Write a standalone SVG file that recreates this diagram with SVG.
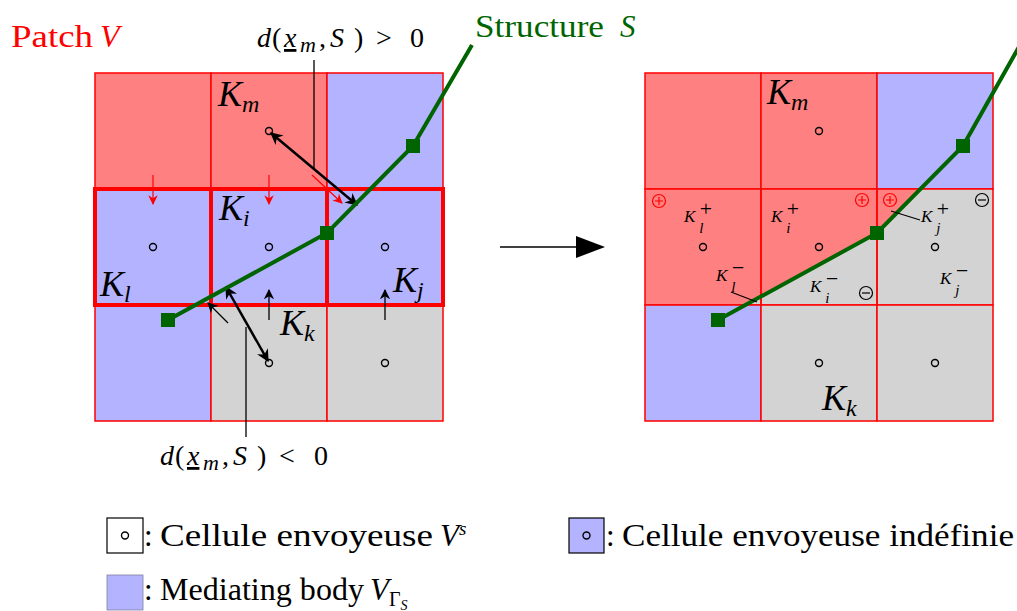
<svg xmlns="http://www.w3.org/2000/svg" width="1017" height="611" viewBox="0 0 1017 611">
<style>
.t{font-family:"Liberation Serif","DejaVu Serif",serif;fill:#000}
.m{font-family:"Liberation Serif","DejaVu Serif",serif;font-style:italic;fill:#000}
.red{fill:#ff8080}
.blue{fill:#b3b3ff}
.gray{fill:#d3d3d3}
.cell{stroke:#ff0000;stroke-width:1.5}
.thick{fill:none;stroke:#ff0000;stroke-width:4}
.dot{fill:none;stroke:#000;stroke-width:1.4}
.green{fill:none;stroke:#006400;stroke-width:4}
.sq{fill:#006400}
.blk{stroke:#000;stroke-width:1.3;fill:none}
.ar{stroke:#000;stroke-width:2.5;fill:none}
.rar{stroke:#ff0000;stroke-width:1.2;fill:none}
</style>
<defs>
<marker id="bh" viewBox="0 0 10 10" refX="9" refY="5" markerWidth="5" markerHeight="5" orient="auto-start-reverse" markerUnits="strokeWidth"><path d="M0,0 L10,5 L0,10 L3,5 z" fill="#000"/></marker>
<marker id="bs" viewBox="0 0 10 10" refX="9" refY="5" markerWidth="8" markerHeight="8" orient="auto" markerUnits="strokeWidth"><path d="M0,0 L10,5 L0,10 L3,5 z" fill="#000"/></marker>
<marker id="rh" viewBox="0 0 10 10" refX="9" refY="5" markerWidth="8" markerHeight="8" orient="auto" markerUnits="strokeWidth"><path d="M0,0 L10,5 L0,10 L3,5 z" fill="#ff0000"/></marker>
</defs>

<g id="left-grid">
<rect class="cell red" x="95" y="73" width="116" height="116"/>
<rect class="cell red" x="211" y="73" width="116" height="116"/>
<rect class="cell blue" x="327" y="73" width="116" height="116"/>
<rect class="cell blue" x="95" y="189" width="116" height="116"/>
<rect class="cell blue" x="211" y="189" width="116" height="116"/>
<rect class="cell blue" x="327" y="189" width="116" height="116"/>
<rect class="cell blue" x="95" y="305" width="116" height="116"/>
<rect class="cell gray" x="211" y="305" width="116" height="116"/>
<rect class="cell gray" x="327" y="305" width="116" height="116"/>
<rect class="thick" x="95" y="189" width="116" height="116"/>
<rect class="thick" x="211" y="189" width="116" height="116"/>
<rect class="thick" x="327" y="189" width="116" height="116"/>
<circle class="dot" cx="269" cy="131" r="3.5"/>
<circle class="dot" cx="153" cy="247" r="3.5"/>
<circle class="dot" cx="269" cy="247" r="3.5"/>
<circle class="dot" cx="385" cy="247" r="3.5"/>
<circle class="dot" cx="269" cy="363" r="3.5"/>
<circle class="dot" cx="385" cy="363" r="3.5"/>
</g>

<g id="right-grid">
<rect class="cell red" x="645" y="73" width="116" height="116"/>
<rect class="cell red" x="761" y="73" width="116" height="116"/>
<rect class="cell blue" x="877" y="73" width="116" height="116"/>
<rect class="red" x="645" y="189" width="116" height="116"/>
<polygon class="gray" points="745.5,305 761,296.5 761,305"/>
<polygon class="red" points="761,189 877,189 877,233 761,296.5"/>
<polygon class="gray" points="761,296.5 877,233 877,305 761,305"/>
<rect class="gray" x="877" y="189" width="116" height="116"/>
<polygon class="red" points="877,189 920.5,189 877,233"/>
<rect class="cell" fill="none" x="645" y="189" width="116" height="116"/>
<rect class="cell" fill="none" x="761" y="189" width="116" height="116"/>
<rect class="cell" fill="none" x="877" y="189" width="116" height="116"/>
<rect class="cell blue" x="645" y="305" width="116" height="116"/>
<rect class="cell gray" x="761" y="305" width="116" height="116"/>
<rect class="cell gray" x="877" y="305" width="116" height="116"/>
<circle class="dot" cx="819" cy="131" r="3.5"/>
<circle class="dot" cx="703" cy="247" r="3.5"/>
<circle class="dot" cx="819" cy="247" r="3.5"/>
<circle class="dot" cx="935" cy="247" r="3.5"/>
<circle class="dot" cx="819" cy="363" r="3.5"/>
<circle class="dot" cx="935" cy="363" r="3.5"/>
</g>

<g id="connectors">
<line class="rar" x1="153" y1="175" x2="153" y2="204" marker-end="url(#rh)"/>
<line class="rar" x1="269" y1="175" x2="269" y2="204" marker-end="url(#rh)"/>
<line class="rar" x1="312" y1="175" x2="342" y2="203" marker-end="url(#rh)"/>
<line class="blk" x1="269" y1="320" x2="269" y2="290" marker-end="url(#bs)"/>
<line class="blk" x1="385" y1="320" x2="385" y2="290" marker-end="url(#bs)"/>
<line class="blk" x1="228" y1="323" x2="208" y2="303" marker-end="url(#bs)"/>
<line class="ar" x1="271" y1="133" x2="357" y2="205" marker-start="url(#bh)" marker-end="url(#bh)"/>
<line class="ar" x1="226" y1="287" x2="268" y2="361" marker-start="url(#bh)" marker-end="url(#bh)"/>
<line class="blk" x1="314" y1="60" x2="314" y2="170"/>
<line class="blk" x1="246" y1="327" x2="246" y2="437"/>
<polyline class="green" points="472,45 413,146 327,233 168,320"/>
<rect class="sq" x="406" y="139" width="14" height="14"/>
<rect class="sq" x="320" y="226" width="14" height="14"/>
<rect class="sq" x="161" y="313" width="14" height="14"/>
<polyline class="green" points="1020,45 963,146 877,233 718,320"/>
<rect class="sq" x="956" y="139" width="14" height="14"/>
<rect class="sq" x="870" y="226" width="14" height="14"/>
<rect class="sq" x="711" y="313" width="14" height="14"/>
<line class="blk" x1="731" y1="292" x2="757" y2="302"/>
<line class="blk" x1="891" y1="211" x2="920" y2="220"/>
<line x1="500" y1="247" x2="580" y2="247" stroke="#000" stroke-width="1.5"/>
<polygon points="576,236 605,247 576,258" fill="#000"/>
</g>

<g id="labels">
<text class="t" x="11" y="47" font-size="32" style="fill:#ff0000" textLength="82" lengthAdjust="spacingAndGlyphs">Patch</text>
<text class="m" x="100" y="47" font-size="32" style="fill:#ff0000">V</text>
<text class="t" x="475" y="37" font-size="31" style="fill:#006400" textLength="129" lengthAdjust="spacingAndGlyphs">Structure</text>
<text class="m" x="620" y="37" font-size="31" style="fill:#006400">S</text>
<text class="t" y="47" font-size="28"><tspan class="m" x="257">d</tspan><tspan x="272">(</tspan><tspan class="m" x="284" text-decoration="underline">x</tspan><tspan class="m" x="300" font-size="22" dy="5">m</tspan><tspan x="319" dy="-5">,</tspan><tspan class="m" x="330">S</tspan><tspan x="354">)</tspan><tspan x="376">&gt;</tspan><tspan x="410">0</tspan></text>
<text class="t" y="465" font-size="28"><tspan class="m" x="160">d</tspan><tspan x="175">(</tspan><tspan class="m" x="187" text-decoration="underline">x</tspan><tspan class="m" x="203" font-size="22" dy="5">m</tspan><tspan x="222" dy="-5">,</tspan><tspan class="m" x="233">S</tspan><tspan x="257">)</tspan><tspan x="279">&lt;</tspan><tspan x="314">0</tspan></text>
<text class="m" x="218" y="106" font-size="36">K<tspan font-size="24" dy="6">m</tspan></text>
<text class="m" x="219" y="220" font-size="36">K<tspan font-size="24" dy="6">i</tspan></text>
<text class="m" x="100" y="296" font-size="36">K<tspan font-size="24" dy="6">l</tspan></text>
<text class="m" x="393" y="292" font-size="36">K<tspan font-size="24" dy="6">j</tspan></text>
<text class="m" x="280" y="335" font-size="36">K<tspan font-size="24" dy="6">k</tspan></text>
<text class="m" x="767" y="104" font-size="36">K<tspan font-size="24" dy="6">m</tspan></text>
<text class="m" x="822" y="410" font-size="36">K<tspan font-size="24" dy="6">k</tspan></text>
<text class="m" x="684" y="222" font-size="17">K<tspan class="t" font-size="22" dx="3" dy="-6">+</tspan><tspan font-size="15" dx="-14" dy="17">l</tspan></text>
<text class="m" x="771" y="222" font-size="17">K<tspan class="t" font-size="22" dx="3" dy="-6">+</tspan><tspan font-size="15" dx="-14" dy="17">i</tspan></text>
<text class="m" x="921" y="222" font-size="17">K<tspan class="t" font-size="22" dx="3" dy="-6">+</tspan><tspan font-size="15" dx="-14" dy="17">j</tspan></text>
<text class="m" x="716" y="281" font-size="17">K<tspan class="t" font-size="22" dx="3" dy="-6">−</tspan><tspan font-size="15" dx="-14" dy="17">l</tspan></text>
<text class="m" x="810" y="292" font-size="17">K<tspan class="t" font-size="22" dx="3" dy="-6">−</tspan><tspan font-size="15" dx="-14" dy="17">i</tspan></text>
<text class="m" x="940" y="284" font-size="17">K<tspan class="t" font-size="22" dx="3" dy="-6">−</tspan><tspan font-size="15" dx="-14" dy="17">j</tspan></text>
<g fill="none" stroke="#ff0000" stroke-width="1.2">
<circle cx="659" cy="201" r="6.5"/><path d="M655,201h8M659,197v8"/>
<circle cx="862" cy="200" r="6.5"/><path d="M858,200h8M862,196v8"/>
<circle cx="890" cy="200" r="6.5"/><path d="M886,200h8M890,196v8"/>
</g>
<g fill="none" stroke="#000" stroke-width="1.2">
<circle cx="982" cy="200" r="6.5"/><path d="M978,200h8"/>
<circle cx="866" cy="293" r="6.5"/><path d="M862,293h8"/>
</g>
</g>

<g id="legend">
<rect x="107" y="518" width="36" height="35" fill="#fff" stroke="#000" stroke-width="1.2"/>
<circle class="dot" cx="125" cy="535.5" r="3.5"/>
<text class="t" x="144" y="546" font-size="31">:</text>
<text class="t" x="160" y="546" font-size="31" textLength="273" lengthAdjust="spacingAndGlyphs">Cellule envoyeuse</text>
<text class="m" x="440" y="546" font-size="31">V<tspan font-size="19" dy="-11">s</tspan></text>
<rect x="569" y="518" width="35" height="35" fill="#b3b3ff" stroke="#000" stroke-width="1.2"/>
<circle class="dot" cx="586.5" cy="535.5" r="3.5"/>
<text class="t" x="606" y="546" font-size="31">:</text>
<text class="t" x="622" y="546" font-size="31" textLength="392" lengthAdjust="spacingAndGlyphs">Cellule envoyeuse indéfinie</text>
<rect x="107" y="575" width="36" height="35" fill="#b3b3ff" stroke="#8080a0" stroke-width="0.8"/>
<text class="t" x="144" y="600" font-size="31">:</text>
<text class="t" x="160" y="600" font-size="31" textLength="204" lengthAdjust="spacingAndGlyphs">Mediating body</text>
<text class="m" x="370" y="600" font-size="31">V<tspan class="t" font-style="normal" font-size="20" dy="6">Γ</tspan><tspan font-size="14" dy="4">S</tspan></text>
</g>
</svg>
